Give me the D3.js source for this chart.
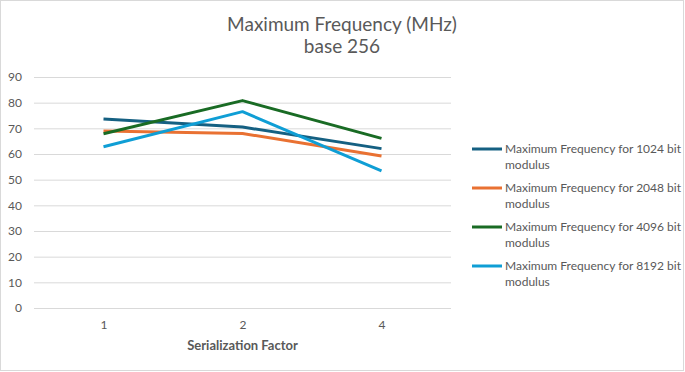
<!DOCTYPE html>
<html>
<head>
    <meta charset="utf-8">
    <title>Maximum Frequency (MHz) base 256</title>
    <script src="https://d3js.org/d3.v7.min.js"></script>
    <style>
        body { margin: 0; background: #fff; }
        text { font-family: Lato, "Noto Sans", sans-serif; }
    </style>
</head>
<body>
    <div id="chart"></div>
    <script>

        // chart data
        var categories = ["1", "2", "4"];
        var seriesNames = [
            "Maximum Frequency for 1024 bit modulus",
            "Maximum Frequency for 2048 bit modulus",
            "Maximum Frequency for 4096 bit modulus",
            "Maximum Frequency for 8192 bit modulus"
        ];
        var freq1024 = [73.6, 70.5, 62.1];
        var freq2048 = [69.0, 68.0, 59.2];
        var freq4096 = [67.9, 80.8, 66.1];
        var freq8192 = [62.8, 76.5, 53.4];
        var yTicks = [0, 10, 20, 30, 40, 50, 60, 70, 80, 90];
        var colors = ["#156082", "#E97132", "#196B24", "#0F9ED5"];

        var allSeries = [freq1024, freq2048, freq4096, freq8192];

        var W = 685, H = 372;
        var margin = {top: 77, right: 234, bottom: 64, left: 34};
        var width = W - margin.left - margin.right;
        var height = H - margin.top - margin.bottom;

        var root = d3.select("#chart")
                    .append("svg")
                    .attr("width", W)
                    .attr("height", H);

        // outer border
        root.append("rect")
            .attr("x", 0.5).attr("y", 0.5)
            .attr("width", W - 2).attr("height", H - 2)
            .attr("fill", "#fff")
            .attr("stroke", "#d9d9d9");

        var svg = root.append("g")
                    .attr("transform", "translate(" + margin.left + "," + margin.top + ")");

        var x = d3.scalePoint()
            .domain(categories)
            .range([0, width])
            .padding(0.5);

        var y = d3.scaleLinear()
            .domain([0, 90])
            .range([height, 0]);

        // gridlines + y labels
        var yAxis = svg.append("g")
            .call(d3.axisLeft(y).tickValues(yTicks).tickSize(-width).tickPadding(12));
        yAxis.select(".domain").remove();
        yAxis.selectAll("line").attr("stroke", "#d9d9d9");
        yAxis.selectAll("text")
            .attr("fill", "#595959")
            .style("font-size", "12px");

        // x labels
        var xAxis = svg.append("g")
            .attr("transform", "translate(0," + height + ")")
            .call(d3.axisBottom(x).tickSize(0).tickPadding(12));
        xAxis.select(".domain").remove();
        xAxis.selectAll("text")
            .attr("fill", "#595959")
            .style("font-size", "12px");

        var line = d3.line()
            .x(function(d, i) { return x(categories[i]); })
            .y(function(d) { return y(d); });

        allSeries.forEach(function(s, i) {
            svg.append("path")
                .datum(s)
                .attr("fill", "none")
                .attr("stroke", colors[i])
                .attr("stroke-width", 3)
                .attr("stroke-linejoin", "round")
                .attr("d", line);
        });

        // title
        root.append("text")
            .attr("x", 342)
            .attr("y", 31)
            .attr("text-anchor", "middle")
            .attr("fill", "#595959")
            .style("font-size", "19px")
            .text("Maximum Frequency (MHz)");
        root.append("text")
            .attr("x", 342)
            .attr("y", 53)
            .attr("text-anchor", "middle")
            .attr("fill", "#595959")
            .style("font-size", "19px")
            .text("base 256");

        // x axis title
        root.append("text")
            .attr("x", margin.left + width / 2)
            .attr("y", 350)
            .attr("text-anchor", "middle")
            .attr("fill", "#595959")
            .style("font-size", "13px")
            .style("font-weight", "bold")
            .text("Serialization Factor");

        // legend
        seriesNames.forEach(function(name, i) {
            var ly = 149 + i * 39;
            root.append("line")
                .attr("x1", 472).attr("x2", 502)
                .attr("y1", ly).attr("y2", ly)
                .attr("stroke", colors[i])
                .attr("stroke-width", 3);
            var t = root.append("text")
                .attr("x", 505)
                .attr("y", ly + 4)
                .attr("fill", "#595959")
                .style("font-size", "12px");
            var cut = name.lastIndexOf(" ");
            t.append("tspan").attr("x", 505).text(name.slice(0, cut));
            t.append("tspan").attr("x", 505).attr("dy", 16).text(name.slice(cut + 1));
        });

    </script>
</body>
</html>
